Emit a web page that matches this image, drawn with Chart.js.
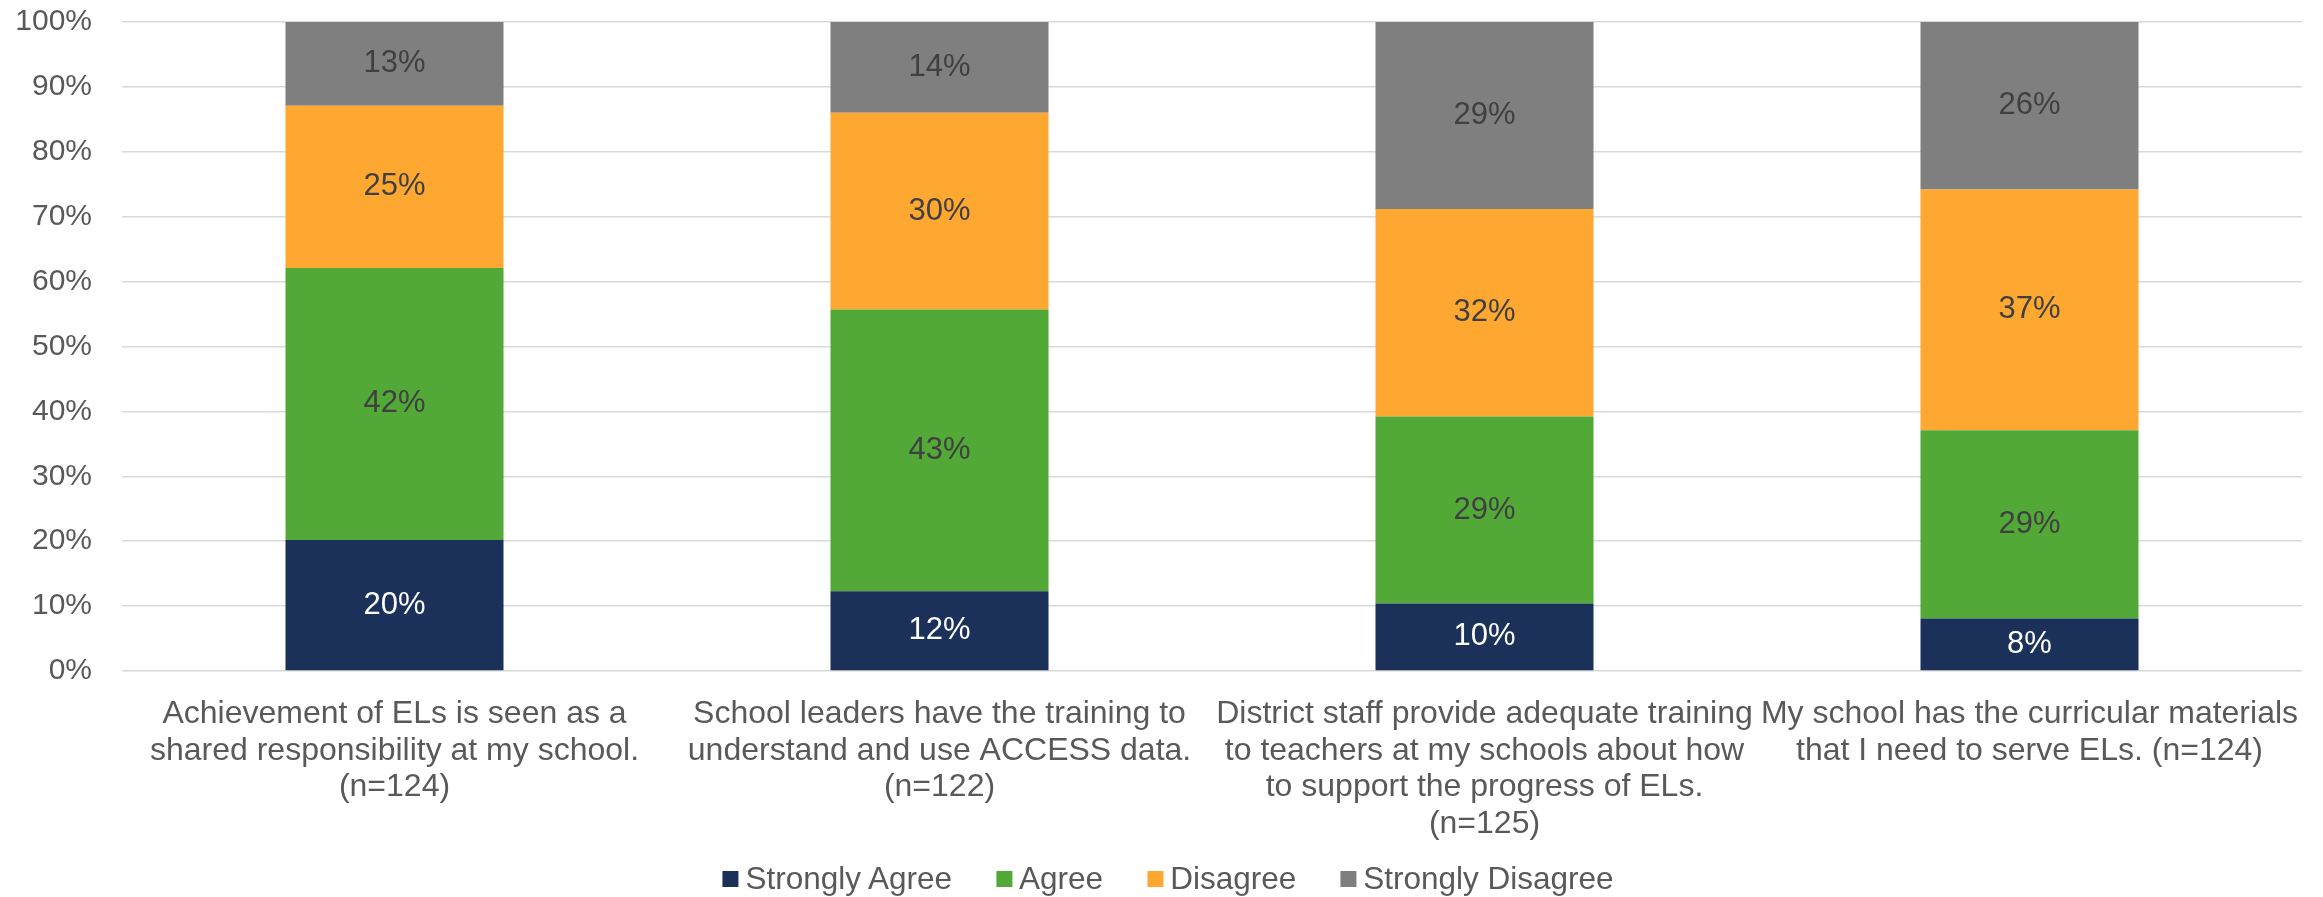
<!DOCTYPE html>
<html>
<head>
<meta charset="utf-8">
<script src="https://cdn.jsdelivr.net/npm/chart.js@4.4.1/dist/chart.umd.min.js"></script>
<style>
  html, body { margin: 0; padding: 0; background: #fff; overflow: hidden; }
  #wrap { width: 2323px; height: 897px; position: relative; }
  #legenda {
    position: absolute; top: 862px; left: 1168px; transform: translateX(-50%);
    display: flex; align-items: center; white-space: nowrap;
    font-family: "Liberation Sans", Arial, Helvetica, sans-serif;
    font-size: 31.5px; line-height: 32px; color: #595959;
  }
  #legenda .item { display: flex; align-items: center; margin-right: 44px; }
  #legenda .item:last-child { margin-right: 0; }
  #legenda .caixa { width: 16px; height: 16px; margin-right: 7px; margin-top: 2px; }
</style>
</head>
<body>
<div id="wrap">
  <canvas id="grafico"></canvas>
  <div id="legenda"></div>
</div>
<script>
// Perguntas do questionário (cada linha é uma linha do rótulo)
const categorias = [
    ['Achievement of ELs is seen as a', 'shared responsibility at my school.', '(n=124)'],
    ['School leaders have the training to', 'understand and use ACCESS data.', '(n=122)'],
    ['District staff provide adequate training', 'to teachers at my schools about how', 'to support the progress of ELs.', '(n=125)'],
    ['My school has the curricular materials', 'that I need to serve ELs. (n=124)']
];

// Percentuais de resposta por pergunta
const stronglyAgree    = [20.2, 12.3, 10.4, 8.1];
const agree            = [41.9, 43.4, 28.8, 29.0];
const disagree         = [25.0, 30.3, 32.0, 37.1];
const stronglyDisagree = [12.9, 14.0, 28.8, 25.8];

const yMin = 0;
const yMax = 100;
const yStep = 10;

const FONTE = '"Liberation Sans", Arial, Helvetica, sans-serif';
const CINZA_TEXTO = '#595959';

Chart.defaults.font.family = FONTE;
Chart.defaults.color = CINZA_TEXTO;

// Rótulos de valor no meio de cada segmento
const rotulosPlugin = {
    id: 'rotulos',
    afterDatasetsDraw(chart) {
        const ctx = chart.ctx;
        ctx.save();
        ctx.font = '31px ' + FONTE;
        ctx.textAlign = 'center';
        ctx.textBaseline = 'middle';
        chart.data.datasets.forEach((ds, i) => {
            const meta = chart.getDatasetMeta(i);
            if (meta.hidden) return;
            meta.data.forEach((bar, j) => {
                const v = ds.data[j];
                ctx.fillStyle = ds.corRotulo;
                ctx.fillText(Math.round(v) + '%', bar.x, (bar.y + bar.base) / 2);
            });
        });
        ctx.restore();
    }
};

const grafico = new Chart(document.getElementById('grafico'), {
    type: 'bar',
    data: {
        labels: categorias,
        datasets: [
            { label: 'Strongly Agree', data: stronglyAgree, backgroundColor: '#1b3159', corRotulo: '#ffffff' },
            { label: 'Agree', data: agree, backgroundColor: '#52a938', corRotulo: '#404040' },
            { label: 'Disagree', data: disagree, backgroundColor: '#fea832', corRotulo: '#404040' },
            { label: 'Strongly Disagree', data: stronglyDisagree, backgroundColor: '#7f7f7f', corRotulo: '#404040' }
        ]
    },
    options: {
        responsive: true,
        maintainAspectRatio: false,
        animation: false,
        layout: { padding: { top: 22, right: 21, bottom: 0, left: 0 } },
        datasets: {
            bar: { categoryPercentage: 1, barPercentage: 0.4, borderWidth: 0 }
        },
        scales: {
            x: {
                stacked: true,
                grid: { display: false },
                border: { display: false },
                ticks: {
                    color: CINZA_TEXTO,
                    font: { size: 32, lineHeight: 1.14 },
                    padding: 17,
                    maxRotation: 0,
                    autoSkip: false
                },
                // altura fixa: o espaço abaixo fica para a legenda em HTML
                afterFit: (scale) => { scale.height = 226; }
            },
            y: {
                stacked: true,
                min: yMin,
                max: yMax,
                border: { display: false },
                grid: { color: '#d9d9d9', lineWidth: 1.5, drawTicks: false },
                ticks: {
                    stepSize: yStep,
                    color: CINZA_TEXTO,
                    font: { size: 30 },
                    padding: 30,
                    callback: (v) => v + '%'
                },
                afterFit: (scale) => {
                    scale.width = 122;
                    scale.paddingTop = 0;
                    scale.paddingBottom = 0;
                }
            }
        },
        plugins: {
            legend: { display: false },
            tooltip: { enabled: false }
        }
    },
    plugins: [rotulosPlugin]
});

// Legenda montada a partir das séries
const legenda = document.getElementById('legenda');
grafico.data.datasets.forEach((ds) => {
    const item = document.createElement('div');
    item.className = 'item';
    const caixa = document.createElement('span');
    caixa.className = 'caixa';
    caixa.style.background = ds.backgroundColor;
    const texto = document.createElement('span');
    texto.textContent = ds.label;
    item.appendChild(caixa);
    item.appendChild(texto);
    legenda.appendChild(item);
});
</script>
</body>
</html>
